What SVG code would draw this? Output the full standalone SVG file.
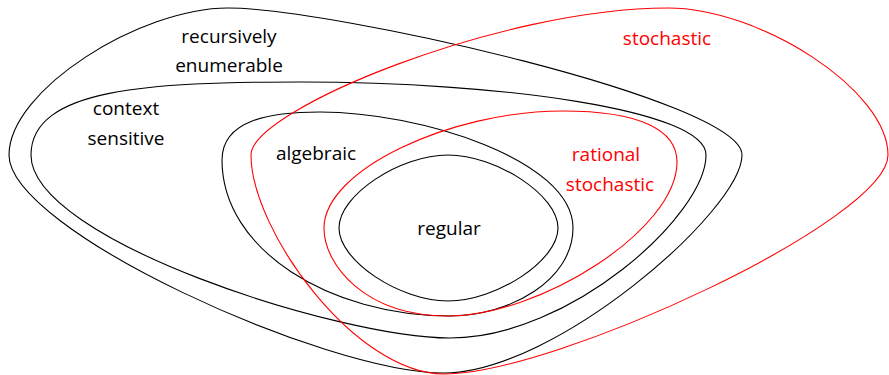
<svg xmlns="http://www.w3.org/2000/svg" width="889" height="375" viewBox="0 0 889 375">
<style>
.b{fill:none;stroke:#000;stroke-width:1.1}
.r{fill:none;stroke:#ff0000;stroke-width:1.1}
text{font-family:"Open Sans","DejaVu Sans",sans-serif;font-size:19px;text-anchor:middle}
.tb{fill:#000}
.tr{fill:#ff0000}
</style>
<rect width="889" height="375" fill="#fff"/>
<g id="recursively-enumerable">
<path class="b" d="M9,155 C9,90 140,8 228,8 C330,8 742,100 742,155 C742,210 555,373 444,373 C325,373 9,230 9,155 Z"/>
<text class="tb" x="229" y="43">recursively</text>
<text class="tb" x="229" y="72">enumerable</text>
</g>
<g id="context-sensitive">
<path class="b" d="M31,155 C31,88 150,82 300,82 C500,82 706,110 706,155 C706,215 570,338 450,338 C340,338 31,240 31,155 Z"/>
<text class="tb" x="126" y="115">context</text>
<text class="tb" x="126" y="145">sensitive</text>
</g>
<g id="algebraic">
<path class="b" d="M222,160 C222,120 270,112 320,112 C420,112 573,160 573,228 C573,280 510,316 450,316 C330,316 222,250 222,160 Z"/>
<text class="tb" x="316" y="160">algebraic</text>
</g>
<g id="regular">
<path class="b" d="M339,228 C339,195 400,155 448,155 C496,155 558,195 558,228 C558,261 496,301 448,301 C400,301 339,261 339,228 Z"/>
<text class="tb" x="449" y="235">regular</text>
</g>
<g id="rational-stochastic">
<path class="r" d="M324,228 C324,170 450,111 563,111 C640,111 677,130 677,162 C677,230 540,316 448,316 C365,316 324,265 324,228 Z"/>
<text class="tr" x="606" y="161">rational</text>
<text class="tr" x="610" y="191">stochastic</text>
</g>
<g id="stochastic">
<path class="r" d="M251,155 C251,110 500,8 668,8 C760,8 888,90 888,155 C888,220 555,374 444,374 C355,374 251,230 251,155 Z"/>
<text class="tr" x="667" y="45">stochastic</text>
</g>
<g id="connectors"></g>
</svg>
